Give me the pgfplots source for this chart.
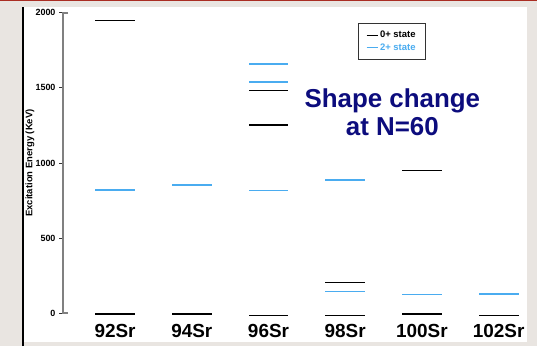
\documentclass[border=0pt]{standalone}
\usepackage{fontspec}
\setmainfont{Liberation Sans}
\usepackage{pgfplots}
\pgfplotsset{compat=1.18}
\definecolor{bgray}{RGB}{233,229,225}
\definecolor{lblue}{RGB}{74,172,240}
\definecolor{navyt}{RGB}{12,12,125}
\definecolor{dred}{RGB}{170,45,35}
\definecolor{axgray}{RGB}{128,128,128}
\begin{document}
\begin{tikzpicture}[x=1bp,y=1bp]
\fill[bgray] (0,0) rectangle (537,346);
\fill[white] (23,4.5) rectangle (527,339);
\fill[dred] (0,344.6) rectangle (537,346);
\draw[black, line width=1.2bp] (23,0) -- (23,339);
\begin{axis}[
  at={(63bp,32.7bp)}, anchor=south west,
  scale only axis, width=464bp, height=300.6bp,
  xmin=-0.679, xmax=5.37, ymin=0, ymax=2000,
  clip=false,
  axis line style={draw=none},
  axis y line*=left, axis x line*=bottom,
  tick align=outside, major tick length=4bp,
  ytick={0,500,1000,1500,2000},
  ytick style={black!80, line width=1bp},
  xtick style={draw=none},
  xtick={0,1,2,3,4,5},
  xticklabels={92Sr,94Sr,96Sr,98Sr,100Sr,102Sr},
  xticklabel style={font=\bfseries\fontsize{19}{20}\selectfont, yshift=-3bp},
  yticklabel style={font=\bfseries\fontsize{9}{10}\selectfont},
  /pgf/number format/assume math mode=true,
  /pgf/number format/set thousands separator={},
  ylabel={Excitation Energy (KeV)},
  every axis y label/.style={at={(axis description cs:-0.071,0.5)}, rotate=90, anchor=center, font=\bfseries\fontsize{9.5}{10}\selectfont},
  legend style={at={(axis description cs:0.635,0.966)}, anchor=north west,
    draw=black!80, line width=0.8bp, font=\bfseries\fontsize{9.5}{10}\selectfont,
    inner xsep=8bp, inner ysep=6bp, row sep=0bp},
  legend cell align=left,
  legend image code/.code={\draw[#1, line width=1bp] (0bp,0bp) -- (11bp,0bp);},
]
% 0+ states
\addplot[draw=none, mark=none, forget plot,
  error bars/.cd, x dir=both, x fixed=0.26, error mark=none,
  error bar style={line width=1.3bp, draw=black}]
  coordinates {(0,-5) (0,1950) (1,-5) (2,-13) (2,1253) (2,1484)
               (3,-13) (3,204) (4,-5) (4,951) (5,-13)};
% 2+ states
\addplot[draw=none, mark=none, forget plot,
  error bars/.cd, x dir=both, x fixed=0.26, error mark=none,
  error bar style={line width=1.6bp, draw=lblue}]
  coordinates {(0,820) (1,854) (2,816) (2,1537) (2,1657)
               (3,144) (3,885) (4,126) (5,128)};
\addlegendimage{black}
\addlegendentry{0+ state}
\addlegendimage{lblue}
\addlegendentry{\textcolor{lblue}{2+ state}}
\draw[axgray, line width=1.8bp] ([xshift=5bp]rel axis cs:0,1) -- (rel axis cs:0,1) -- (rel axis cs:0,0) -- ([xshift=5bp]rel axis cs:0,0);
\node[navyt, font=\bfseries\fontsize{26}{29}\selectfont, anchor=base] at (axis cs:3.614,1372) {Shape change};
\node[navyt, font=\bfseries\fontsize{26}{29}\selectfont, anchor=base] at (axis cs:3.614,1186) {at N=60};
\end{axis}
\end{tikzpicture}
\end{document}
